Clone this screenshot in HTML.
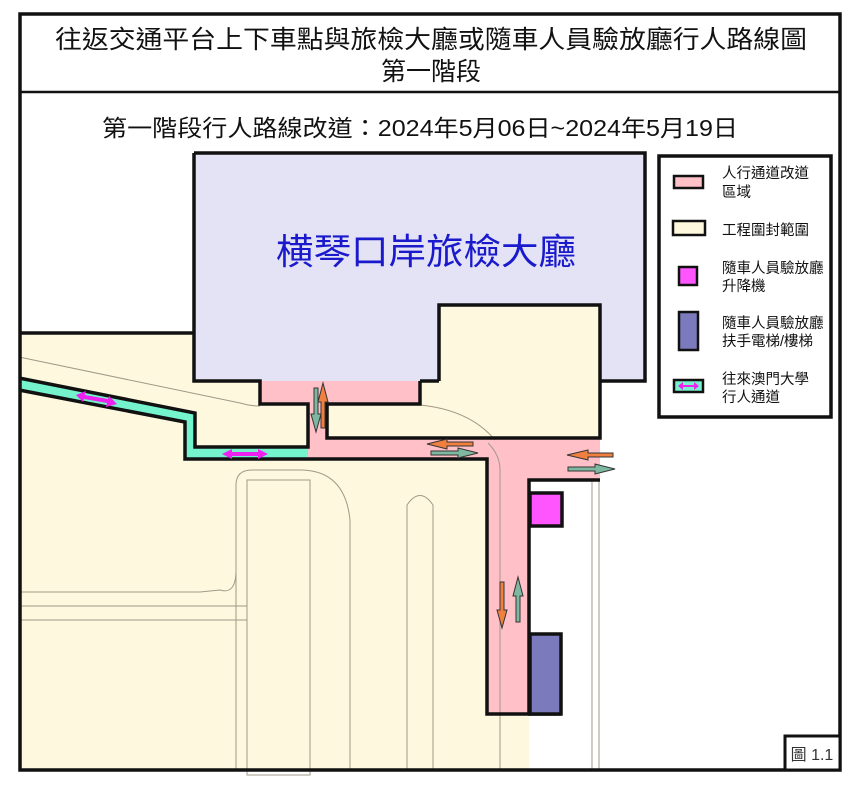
<!DOCTYPE html>
<html><head><meta charset="utf-8"><style>
html,body{margin:0;padding:0;background:#fff;}
svg{display:block;}
text{font-family:"Liberation Sans","Noto Sans CJK TC",sans-serif;}
</style></head><body>
<svg width="861" height="792" viewBox="0 0 861 792" xmlns="http://www.w3.org/2000/svg">
<rect x="0" y="0" width="861" height="792" fill="#fff"/>
<polygon points="19,333 194,333 194,381 600,381 600,480 529,480 529,770 19,770" fill="#fef8de"/>
<rect x="439" y="305" width="160" height="133" fill="#fef8de"/>
<rect x="194" y="153" width="451" height="228" fill="#e3e3f5"/>
<rect x="439" y="305" width="161" height="134" fill="#fef8de"/>
<rect x="600" y="381" width="241" height="390" fill="#fff"/>
<rect x="529" y="480" width="72" height="291" fill="#fff"/>
<polygon points="260,381 420,381 420,404 327,404 327,438 600,438 600,480 529,480 529,714 487,714 487,459 308,459 308,404 260,404" fill="#ffc0c8"/>
<polygon points="19,378 195,413 195,448 308,448 308,459 185,459 185,422 19,390" fill="#74f3cc"/>
<g fill="none" stroke="#a09a88" stroke-width="1">
<path d="M19,357 L240,403 Q250,406 260,406"/>
<path d="M420,405 Q470,410 495,440"/>
<path d="M488,443 Q500,455 500,470 L500,770"/>
<path d="M236,770 L236,485 Q236,470 252,470 L300,470 Q345,470 350,520 L350,770"/>
<rect x="247" y="480" width="63" height="295"/>
<path d="M407,770 L407,505 Q420,486 433,505 L433,770"/>
<path d="M236,570 Q236,595 220,590 L200,592 L19,592"/>
<path d="M19,606 L247,606 M19,620 L247,620"/>
<path d="M592,480 L592,770 M599,480 L599,770"/>
</g>
<g fill="none" stroke="#111" stroke-width="3.5" stroke-linejoin="miter">
<path d="M19,333 L194,333"/>
<path d="M194,153 L645,153 L645,381 L600,381"/>
<path d="M194,153 L194,381 L260,381 L260,404 L308,404 L308,447 L195,447 L195,413 L19,378"/>
<path d="M19,390 L185,422 L185,459 L487,459 L487,714 L529,714 L529,480 L600,480"/>
<path d="M420,381 L439,381 M420,381 L420,404 L327,404 L327,438 L600,438 L600,305 L439,305 L439,381"/>
<path d="M529,714 L561,714"/>
</g>
<rect x="530" y="493" width="32" height="33" fill="#ff55ff" stroke="#111" stroke-width="3.5"/>
<rect x="530" y="634" width="31" height="80" fill="#7a7abc" stroke="#111" stroke-width="3.5"/>
<g stroke="#333" stroke-width="1">
<polygon points="314,388 318,388 318,414 321,414 316,432 311,414 314,414" fill="#7fb8a0"/>
<polygon points="321,428 325,428 325,402 328,402 323,383 318,402 321,402" fill="#f08040"/>
<polygon points="473,442 473,446 447,446 447,449 427,444 447,439 447,442" fill="#f08040"/>
<polygon points="431,451 431,455 458,455 458,458 478,453 458,448 458,451" fill="#7fb8a0"/>
<polygon points="613,453 613,457 588,457 588,460 567,455 588,450 588,453" fill="#f08040"/>
<polygon points="568,467 568,471 595,471 595,474 615,469 595,464 595,467" fill="#7fb8a0"/>
<polygon points="500,582 504,582 504,610 507,610 502,628 497,610 500,610" fill="#f08040"/>
<polygon points="516,622 520,622 520,596 523,596 518,577 513,596 516,596" fill="#7fb8a0"/>
</g>
<g fill="#ee22ee">
<polygon points="76,395 86,391 85,395 108,399 109,396 117,404 106,407 107,403 84,399 83,402"/>
<polygon points="222,454 232,449 232,452 258,452 258,449 268,454 258,459 258,456 232,456 232,459"/>
</g>
<rect x="20" y="14" width="820" height="756" fill="none" stroke="#111" stroke-width="3.5"/>
<line x1="20" y1="92" x2="840" y2="92" stroke="#111" stroke-width="2.5"/>
<text x="431" y="48" font-size="25" text-anchor="middle" fill="#111" textLength="752" lengthAdjust="spacingAndGlyphs">往返交通平台上下車點與旅檢大廳或隨車人員驗放廳行人路線圖</text>
<text x="431" y="80" font-size="25" text-anchor="middle" fill="#111">第一階段</text>
<text x="102" y="136" font-size="23" fill="#111" textLength="636" lengthAdjust="spacingAndGlyphs">第一階段行人路線改道：2024年5月06日~2024年5月19日</text>
<text x="276" y="264" font-size="36" fill="#1a1acc" textLength="300" lengthAdjust="spacingAndGlyphs">横琴口岸旅檢大廳</text>
<rect x="659" y="156" width="172" height="261" fill="#fff" stroke="#111" stroke-width="3.5"/>
<rect x="674" y="176" width="29" height="12" fill="#ffc0c8" stroke="#111" stroke-width="2.5"/>
<rect x="673" y="221" width="32" height="14" fill="#fef8de" stroke="#111" stroke-width="2.5"/>
<rect x="679" y="267" width="18" height="18" fill="#ff55ff" stroke="#111" stroke-width="2.5"/>
<rect x="679" y="312" width="19" height="38" fill="#7a7abc" stroke="#111" stroke-width="2.5"/>
<rect x="674" y="380" width="29" height="12" fill="#74f3cc" stroke="#111" stroke-width="2.5"/>
<polygon points="678,386 683,382 683,385 694,385 694,382 699,386 694,390 694,387 683,387 683,390" fill="#ee22ee"/>
<g font-size="14.5" fill="#111">
<text x="722" y="178">人行通道改道</text>
<text x="722" y="197">區域</text>
<text x="722" y="235">工程圍封範圍</text>
<text x="722" y="273">隨車人員驗放廳</text>
<text x="722" y="291">升降機</text>
<text x="722" y="328">隨車人員驗放廳</text>
<text x="722" y="346">扶手電梯/樓梯</text>
<text x="722" y="384">往來澳門大學</text>
<text x="722" y="402">行人通道</text>
</g>
<rect x="785" y="736" width="55" height="34" fill="#fff" stroke="#111" stroke-width="3"/>
<text x="812" y="760" font-size="16" text-anchor="middle" fill="#333">圖 1.1</text>
</svg>
</body></html>
